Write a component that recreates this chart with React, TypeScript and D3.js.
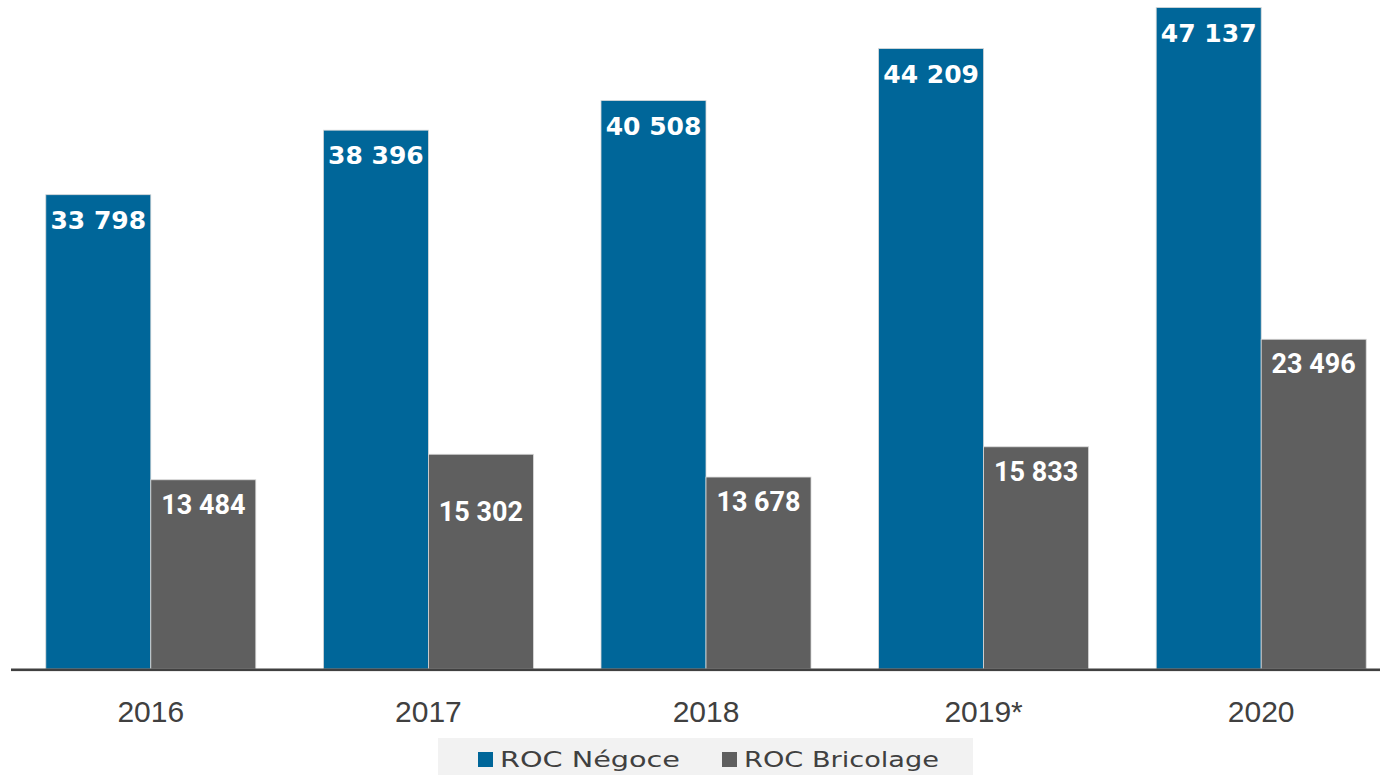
import React from "react";
import * as d3 from "d3";

const years = ["2016", "2017", "2018", "2019*", "2020"];
const negoce = [33798, 38396, 40508, 44209, 47137];
const bricolage = [13484, 15302, 13678, 15833, 23496];
const seriesNames = ["ROC Négoce", "ROC Bricolage"];
const colors = ["#006699", "#5f5f5f"];
// label nudges (px) for Bricolage labels as placed in the original
const bricolageNudge = [0, 33, 0, 0, 0];

const W = 1380;
const H = 775;

const fmt = (v: number) => {
  const s = String(v);
  return s.length > 3 ? s.slice(0, s.length - 3) + " " + s.slice(-3) : s;
};

export default function App() {
  const x0 = d3.scaleBand<string>().domain(years).range([12, 1400]).paddingInner(0.2435).paddingOuter(0.12175);
  const x1 = d3.scaleBand<string>().domain(seriesNames).range([0, x0.bandwidth()]);
  const y = d3.scaleLinear().domain([0, 47137]).range([669, 7.5]);
  const data = [negoce, bricolage];

  return (
    <div style={{ position: "absolute", left: 0, top: 0, width: W, height: H, background: "#fff" }}>
      <svg width={W} height={H} style={{ display: "block" }}>
        {years.map((yr, i) => (
          <g key={yr} transform={`translate(${x0(yr)},0)`}>
            {seriesNames.map((s, j) => {
              const v = data[j][i];
              const bx = x1(s)!;
              const bw = x1.bandwidth();
              const top = y(v);
              return (
                <g key={s}>
                  <rect x={bx} y={top} width={bw} height={y(0) - top} fill={colors[j]} stroke="#d9d9d9" strokeWidth={0.8} />
                  <text
                    x={bx + bw / 2}
                    y={top + 34 + (j === 1 ? bricolageNudge[i] : 0)}
                    textAnchor="middle"
                    fill="#fff"
                    fontFamily={j === 0 ? "DejaVu Sans" : "Roboto"}
                    fontWeight="bold"
                    fontSize={j === 0 ? 25 : 27}
                  >
                    {fmt(v)}
                  </text>
                </g>
              );
            })}
          </g>
        ))}
        <rect x={11} y={668.5} width={1369} height={2.6} fill="#404040" />
        {years.map((yr) => (
          <text
            key={yr}
            x={x0(yr)! + x0.bandwidth() / 2}
            y={722}
            textAnchor="middle"
            fill="#404040"
            fontFamily="Liberation Sans"
            fontSize={30}
          >
            {yr}
          </text>
        ))}
        <rect x={438} y={738} width={535} height={40} fill="#f2f2f2" />
        {seriesNames.map((s, j) => {
          const sx = j === 0 ? 478 : 722;
          const tw = j === 0 ? 180 : 195;
          return (
            <g key={s}>
              <rect x={sx} y={752} width={15} height={15} fill={colors[j]} />
              <text
                x={sx + 22}
                y={767}
                fill="#404040"
                fontFamily="DejaVu Sans"
                fontSize={22}
                textLength={tw}
                lengthAdjust="spacingAndGlyphs"
              >
                {s}
              </text>
            </g>
          );
        })}
      </svg>
    </div>
  );
}
